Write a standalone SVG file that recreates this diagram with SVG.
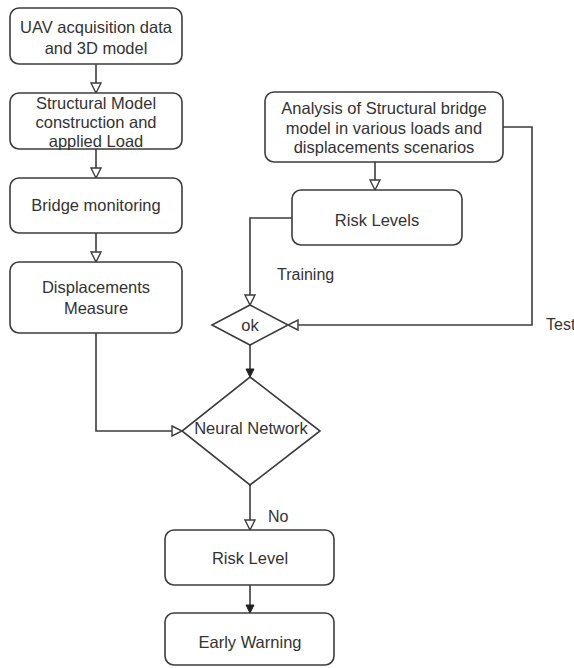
<svg xmlns="http://www.w3.org/2000/svg" width="574" height="668" viewBox="0 0 574 668">
<defs>
<style>
.box{fill:#fff;stroke:#3c3c3c;stroke-width:1.6}
.t{font-family:"Liberation Sans",Arial,sans-serif;font-size:16.5px;fill:#333;text-anchor:middle}
.l{font-family:"Liberation Sans",Arial,sans-serif;font-size:16px;fill:#333}
.c{fill:none;stroke:#3c3c3c;stroke-width:1.6}
</style>
<marker id="open" viewBox="0 0 12 12" refX="11" refY="6" markerWidth="12" markerHeight="12" markerUnits="userSpaceOnUse" orient="auto">
<path d="M1,1 L11,6 L1,11 Z" fill="#fff" stroke="#3c3c3c" stroke-width="1.4"/>
</marker>
<marker id="fill" viewBox="0 0 10 10" refX="9" refY="5" markerWidth="10" markerHeight="10" markerUnits="userSpaceOnUse" orient="auto">
<path d="M1,1 L9,5 L1,9 Z" fill="#222" stroke="#222" stroke-width="1"/>
</marker>
</defs>
<rect width="574" height="668" fill="#fff"/>
<g id="connectors">
<path class="c" d="M96,64 V93" marker-end="url(#open)"/>
<path class="c" d="M96,149 V178" marker-end="url(#open)"/>
<path class="c" d="M96,233 V262" marker-end="url(#open)"/>
<path class="c" d="M96,333 V431 H182" marker-end="url(#open)"/>
<path class="c" d="M375,162 V190" marker-end="url(#open)"/>
<path class="c" d="M292,218 H250 V305" marker-end="url(#open)"/>
<path class="c" d="M503,127 H532 V325 H288" marker-end="url(#open)"/>
<path class="c" d="M250,345 V377" marker-end="url(#fill)"/>
<path class="c" d="M250,485 V530" marker-end="url(#open)"/>
<path class="c" d="M250,585 V613" marker-end="url(#fill)"/>
<text class="l" x="277" y="280">Training</text>
<text class="l" x="546" y="330">Test</text>
<text class="l" x="268" y="522">No</text>
</g>
<g id="uav">
<rect class="box" x="10" y="8" width="172" height="56" rx="9"/>
<text class="t" x="96" y="33">UAV acquisition data</text>
<text class="t" x="96" y="54">and 3D model</text>
</g>
<g id="structural">
<rect class="box" x="10" y="93" width="172" height="56" rx="9"/>
<text class="t" x="96" y="109">Structural Model</text>
<text class="t" x="96" y="128">construction and</text>
<text class="t" x="96" y="147">applied Load</text>
</g>
<g id="bridge">
<rect class="box" x="10" y="178" width="172" height="55" rx="9"/>
<text class="t" x="96" y="211">Bridge monitoring</text>
</g>
<g id="displacements">
<rect class="box" x="10" y="262" width="172" height="71" rx="9"/>
<text class="t" x="96" y="293">Displacements</text>
<text class="t" x="96" y="314">Measure</text>
</g>
<g id="analysis">
<rect class="box" x="265" y="92" width="238" height="70" rx="9"/>
<text class="t" x="384" y="114">Analysis of Structural bridge</text>
<text class="t" x="384" y="134">model in various loads and</text>
<text class="t" x="384" y="153">displacements scenarios</text>
</g>
<g id="risklevels">
<rect class="box" x="292" y="190" width="170" height="55" rx="9"/>
<text class="t" x="377" y="226">Risk Levels</text>
</g>
<g id="ok">
<path class="box" d="M250,305 L288,325 L250,345 L212,325 Z"/>
<text class="t" x="250" y="331">ok</text>
</g>
<g id="nn">
<path class="box" d="M250,377 L320,431 L250,485 L182,431 Z"/>
<text class="t" x="251" y="434">Neural Network</text>
</g>
<g id="risklevel">
<rect class="box" x="165" y="530" width="169" height="55" rx="9"/>
<text class="t" x="250" y="564">Risk Level</text>
</g>
<g id="early">
<rect class="box" x="165" y="613" width="169" height="52" rx="9"/>
<text class="t" x="250" y="648">Early Warning</text>
</g>
</svg>
